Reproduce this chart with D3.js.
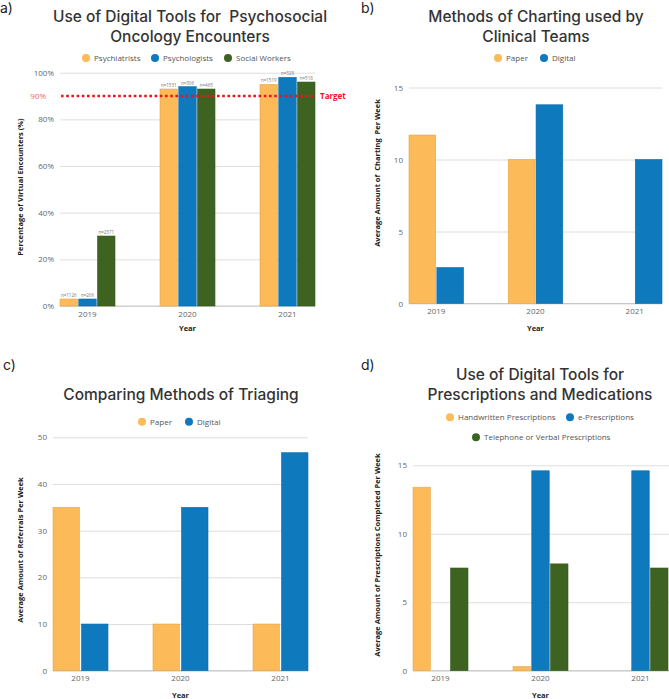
<!DOCTYPE html>
<html>
<head>
<meta charset="utf-8">
<script src="https://cdn.jsdelivr.net/npm/d3@7"></script>
<style>
  body { margin: 0; background: #fff; }
  svg { display: block; }
  .tick line { stroke: #dedede; }
  .tick text { fill: #666; font-family: "Open Sans", sans-serif; font-size: 8px; }
  .title { font-family: Inter, "Open Sans", sans-serif; font-size: 15.5px; font-weight: 500; fill: #333; text-anchor: middle; white-space: pre; }
  .panel-label { font-family: Inter, sans-serif; font-size: 14px; fill: #222; }
  .legend text { font-family: "Open Sans", sans-serif; font-size: 8px; fill: #555; }
  .axis-title { font-family: "Open Sans", sans-serif; font-size: 7.5px; font-weight: 700; fill: #222; text-anchor: middle; white-space: pre; }
</style>
</head>
<body>
<svg id="chart" width="669" height="699"></svg>
<script>
// ---- data ----
let years = ["2019", "2020", "2021"];

let aSeries = ["Psychiatrists", "Psychologists", "Social Workers"];
let aPsychiatrists = [3, 93, 95];
let aPsychologists = [3, 94, 98];
let aSocialWorkers = [30, 93, 96];
let aCounts = [
  ["n=1126", "n=1531", "n=1519"],
  ["n=206", "n=306", "n=328"],
  ["n=2371", "n=465", "n=518"]
];
let aTicks = [0, 20, 40, 60, 80, 100];
let aTarget = 90;

let bSeries = ["Paper", "Digital"];
let bPaper = [11.7, 10, 0];
let bDigital = [2.5, 13.8, 10];
let bTicks = [0, 5, 10, 15];

let cSeries = ["Paper", "Digital"];
let cPaper = [35, 10, 10];
let cDigital = [10, 35, 46.7];
let cTicks = [0, 10, 20, 30, 40, 50];

let dSeries = ["Handwritten Prescriptions", "e-Prescriptions", "Telephone or Verbal Prescriptions"];
let dHandwritten = [13.4, 0.3, 0];
let dEPrescriptions = [0, 14.6, 14.6];
let dTelephone = [7.5, 7.8, 7.5];
let dTicks = [0, 5, 10, 15];

let orange = "#fdba58", blue = "#0e79bd", green = "#3e6321";
let targetRed = "#f2131a";

let svg = d3.select("#chart");

function drawPanel(p) {
  let g = svg.append("g");

  let x0 = d3.scaleBand().domain(years).range(p.xr).paddingInner(0.45).paddingOuter(0);
  let x1 = d3.scaleBand().domain(p.series).range([0, x0.bandwidth()]).paddingInner(p.inner);
  let y = d3.scaleLinear().domain(p.yd).range(p.yr);

  // grid + y ticks
  g.append("g")
    .attr("transform", `translate(${p.xr[0]},0)`)
    .call(d3.axisLeft(y).tickValues(p.ticks).tickFormat(p.fmt)
      .tickSizeInner(-(p.gridEnd - p.xr[0])).tickSizeOuter(0).tickPadding(6))
    .call(a => a.select(".domain").remove());

  // baseline + year labels
  g.append("g")
    .attr("transform", `translate(0,${p.yr[0]})`)
    .call(d3.axisBottom(x0).tickSize(0).tickPadding(5))
    .call(a => a.select(".domain").attr("d", `M${p.xr[0]},0H${p.gridEnd}`).attr("stroke", "#c8c8c8"))
    .call(a => a.selectAll("text").attr("font-size", "8.5px"));

  // bars
  let rows = [];
  p.series.forEach((s, si) => {
    years.forEach((yr, yi) => {
      rows.push({ s: s, si: si, year: yr, yi: yi, v: p.values[si][yi] });
    });
  });
  g.selectAll(".bar")
    .data(rows.filter(d => d.v > 0))
    .enter()
    .append("rect")
    .attr("class", "bar")
    .attr("x", d => x0(d.year) + x1(d.s))
    .attr("y", d => y(d.v))
    .attr("width", x1.bandwidth())
    .attr("height", d => y(0) - y(d.v))
    .attr("fill", d => p.colors[d.si])
    .attr("stroke", d => d3.color(p.colors[d.si]).darker(0.3))
    .attr("stroke-width", 0.6);

  if (p.labels) {
    g.selectAll(".nlab")
      .data(rows)
      .enter()
      .append("text")
      .attr("x", d => x0(d.year) + x1(d.s) + x1.bandwidth() / 2)
      .attr("y", d => y(d.v) - 2)
      .attr("text-anchor", "middle")
      .attr("font-family", "Open Sans, sans-serif")
      .attr("font-size", "4.5px")
      .attr("fill", "#777")
      .text(d => p.labels[d.si][d.yi]);
  }

  // titles
  p.title.forEach((t, i) => {
    g.append("text").attr("class", "title")
      .attr("x", p.titleX).attr("y", p.titleY + i * 20).text(t);
  });
  g.append("text").attr("class", "panel-label")
    .attr("x", p.tag[1]).attr("y", p.tag[2]).text(p.tag[0]);

  // legend
  let leg = g.append("g").attr("class", "legend");
  p.series.forEach((s, i) => {
    let pos = p.legend[i];
    leg.append("circle").attr("cx", pos[0]).attr("cy", pos[1]).attr("r", 4).attr("fill", p.colors[i]);
    leg.append("text").attr("x", pos[0] + 8).attr("y", pos[1] + 3).text(s);
  });

  // axis titles
  g.append("text").attr("class", "axis-title")
    .attr("transform", `translate(${p.yTitle[1]},${p.yTitle[2]}) rotate(-90)`)
    .text(p.yTitle[0]);
  g.append("text").attr("class", "axis-title")
    .attr("x", (p.xr[0] + p.xr[1]) / 2).attr("y", p.yearY)
    .attr("font-size", "8px")
    .text("Year");

  return { g: g, x0: x0, y: y };
}

// a)
let pa = drawPanel({
  xr: [60, 315], gridEnd: 315, inner: 0.07,
  yd: [0, 100], yr: [306, 72.7], ticks: aTicks, fmt: d => d + "%",
  series: aSeries, values: [aPsychiatrists, aPsychologists, aSocialWorkers],
  colors: [orange, blue, green], labels: aCounts,
  title: ["Use of Digital Tools for  Psychosocial", "Oncology Encounters"], titleX: 190, titleY: 22,
  tag: ["a)", 0, 13],
  legend: [[86, 58], [155, 58], [228, 58]],
  yTitle: ["Percentage of Virtual Encounters (%)", 23, 187],
  yearY: 331
});
pa.g.append("line")
  .attr("x1", 61).attr("x2", 314)
  .attr("y1", pa.y(aTarget)).attr("y2", pa.y(aTarget))
  .attr("stroke", targetRed).attr("stroke-width", 2.5)
  .attr("stroke-dasharray", "2.6,2.6");
pa.g.append("text")
  .attr("x", 320).attr("y", pa.y(aTarget) + 3)
  .attr("font-family", "Open Sans, sans-serif").attr("font-size", "8px")
  .attr("font-weight", 700).attr("fill", targetRed).text("Target");
pa.g.append("text")
  .attr("x", 46).attr("y", pa.y(aTarget) + 3).attr("text-anchor", "end")
  .attr("font-family", "Open Sans, sans-serif").attr("font-size", "8px")
  .attr("fill", "#ff5c5c").text(aTarget + "%");

// b)
drawPanel({
  xr: [409, 662], gridEnd: 662, inner: 0.04,
  yd: [0, 15], yr: [303.5, 87.5], ticks: bTicks, fmt: d3.format("d"),
  series: bSeries, values: [bPaper, bDigital], colors: [orange, blue],
  title: ["Methods of Charting used by", "Clinical Teams"], titleX: 536, titleY: 22,
  tag: ["b)", 361, 13],
  legend: [[498, 58], [544, 58]],
  yTitle: ["Average Amount of  Charting  Per Week", 380, 173],
  yearY: 331
});

// c)
drawPanel({
  xr: [53, 308], gridEnd: 308, inner: 0.07,
  yd: [0, 50], yr: [670.7, 437.3], ticks: cTicks, fmt: d3.format("d"),
  series: cSeries, values: [cPaper, cDigital], colors: [orange, blue],
  title: ["Comparing Methods of Triaging"], titleX: 181, titleY: 400,
  tag: ["c)", 3, 370],
  legend: [[142, 421.7], [189, 421.7]],
  yTitle: ["Average Amount of Referrals Per Week", 23, 550],
  yearY: 698
});

// d)
drawPanel({
  xr: [413, 668], gridEnd: 669, inner: 0.07,
  yd: [0, 15], yr: [670.7, 465.3], ticks: dTicks, fmt: d3.format("d"),
  series: dSeries, values: [dHandwritten, dEPrescriptions, dTelephone],
  colors: [orange, blue, green],
  title: ["Use of Digital Tools for", "Prescriptions and Medications"], titleX: 540, titleY: 379.5,
  tag: ["d)", 361, 370],
  legend: [[450, 417.3], [570, 417.3], [476, 437.3]],
  yTitle: ["Average Amount of Prescriptions Completed Per Week", 380, 555],
  yearY: 698
});
</script>
</body>
</html>
